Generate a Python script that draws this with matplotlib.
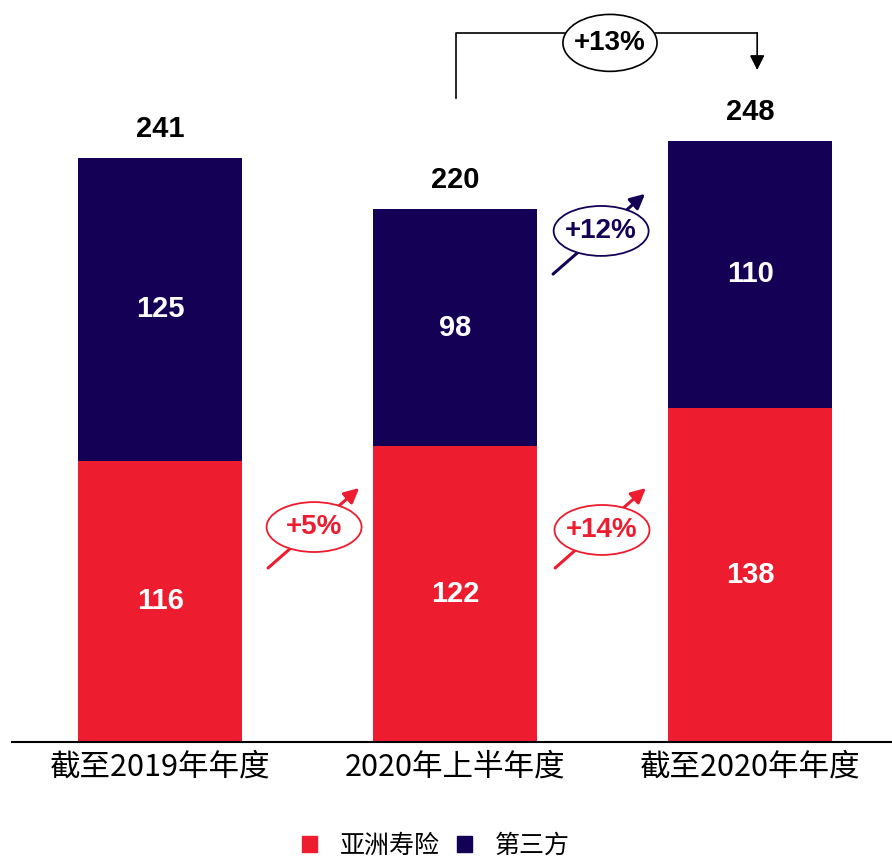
import matplotlib
matplotlib.use("Agg")
import matplotlib.pyplot as plt
from matplotlib.patches import Ellipse, Patch

# -------------------------------
# Data
# -------------------------------
categories = ["截至2019年年度", "2020年上半年度", "截至2020年年度"]
asia_life = [116, 122, 138]
third_party = [125, 98, 110]
totals = [241, 220, 248]
series_names = ["亚洲寿险", "第三方"]
growth_red = ["+5%", "+14%"]
growth_navy = "+12%"
growth_total = "+13%"

RED = "#ED1C2E"
NAVY = "#140055"

plt.rcParams["font.family"] = ["Liberation Sans", "Noto Sans CJK SC"]

W, H = 892, 864
fig = plt.figure(figsize=(W / 100, H / 100), dpi=100)
ax = fig.add_axes([12 / W, (H - 742) / H, 880 / W, 742 / H])

x = list(range(len(categories)))
bw = 0.556
ax.bar(x, asia_life, width=bw, color=RED, zorder=2)
ax.bar(x, third_party, width=bw, bottom=asia_life, color=NAVY, zorder=2)

ax.set_xlim(-0.502, 2.481)
ax.set_ylim(0, 306.2)

bold = dict(family=["Liberation Sans", "DejaVu Sans"], fontweight="bold", fontsize=21)
for i in x:
    ax.text(i, asia_life[i] / 2, str(asia_life[i]), ha="center", va="center", color="white", **bold)
    ax.text(i, asia_life[i] + third_party[i] / 2, str(third_party[i]), ha="center", va="center",
            color="white", **bold)
    ax.annotate(str(totals[i]), (i, totals[i]), xytext=(0, 15), textcoords="offset points",
                ha="center", va="baseline", color="black", **bold)

# axis styling
for s in ["top", "right", "left"]:
    ax.spines[s].set_visible(False)
ax.spines["bottom"].set_linewidth(1.5)
ax.set_yticks([])
ax.set_xticks(x)
ax.set_xticklabels(categories, fontsize=22, family=["Noto Sans CJK SC"])
ax.tick_params(axis="x", length=0, pad=7)


# growth bubbles
def bubble(cx, cy, label, color, start, end, w=0.322, h=20.6):
    ax.annotate("", xy=end, xytext=start,
                arrowprops=dict(arrowstyle="-|>", color=color, lw=2.2, mutation_scale=22,
                                shrinkA=0, shrinkB=0), zorder=3, annotation_clip=False)
    ax.add_patch(Ellipse((cx, cy), w, h, facecolor="white", edgecolor=color, lw=1.3, zorder=4,
                         clip_on=False))
    ax.text(cx, cy, label, ha="center", va="center", color=color, zorder=5,
            family=["Liberation Sans", "DejaVu Sans"], fontweight="bold", fontsize=20)


bubble(0.522, 88.7, growth_red[0], RED, (0.366, 71.8), (0.675, 104.8))
bubble(1.498, 87.5, growth_red[1], RED, (1.339, 71.8), (1.647, 104.8))
bubble(1.495, 210.9, growth_navy, NAVY, (1.332, 193.1), (1.644, 226.2))

# +13% bracket
ax.plot([1.003, 1.003, 2.024], [265.8, 292.6, 292.6], color="black", lw=1.2, clip_on=False, zorder=3)
ax.annotate("", xy=(2.024, 277.3), xytext=(2.024, 292.6),
            arrowprops=dict(arrowstyle="-|>", color="black", lw=1.2, mutation_scale=22,
                            shrinkA=0, shrinkB=0), annotation_clip=False)
ax.add_patch(Ellipse((1.525, 288.5), 0.319, 23.5, facecolor="white", edgecolor="black", lw=1.2,
                     zorder=4, clip_on=False))
ax.text(1.525, 288.5, growth_total, ha="center", va="center", color="black", zorder=5,
        family=["Liberation Sans", "DejaVu Sans"], fontweight="bold", fontsize=20)

# legend
handles = [Patch(color=RED), Patch(color=NAVY)]
fig.legend(handles, series_names, loc="center", bbox_to_anchor=(436 / W, 1 - 846 / H),
           ncol=2, frameon=False, handlelength=0.6, handleheight=0.6, borderpad=0.1,
           handletextpad=0.9, columnspacing=0.7, prop={"family": ["Noto Sans CJK SC"], "size": 18})

fig.savefig("out.png", dpi=100)
